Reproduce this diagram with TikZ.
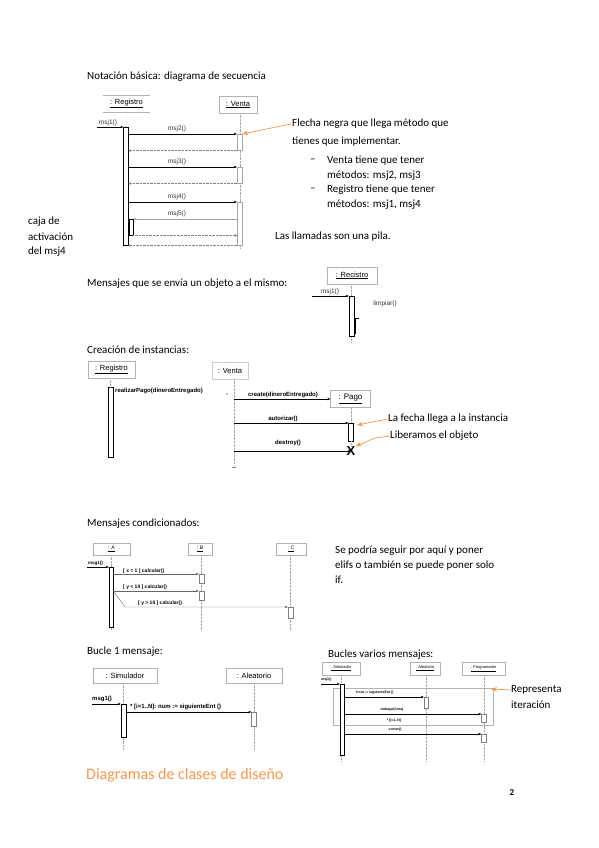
\documentclass[tikz,border=0pt]{standalone}
\usepackage{fontspec}
\setmainfont{Carlito}
\newfontfamily\arialf{Liberation Sans}
\usetikzlibrary{arrows.meta}
\definecolor{orng}{RGB}{247,150,70}
\begin{document}
\begin{tikzpicture}[x=1pt,y=-1pt,
 txt/.style={anchor=west,inner sep=0,font=\fontsize{11}{13}\selectfont},
 lbl/.style={inner sep=0,font=\arialf\fontsize{6.5}{7}\selectfont,text=black!80},
 blbl/.style={inner sep=0,font=\arialf\bfseries\fontsize{6}{7}\selectfont},
 objbox/.style={draw=gray!60,inner sep=0,font=\arialf\fontsize{7.5}{8}\selectfont},
 actbar/.style={draw,fill=white,inner sep=0,minimum width=5pt,anchor=north},
 life/.style={gray!70,densely dotted},
 msg/.style={-{Stealth[length=3pt,width=2.5pt]}},
 ret/.style={densely dotted,gray,-{To[length=2pt,width=3.5pt]}},
 orarr/.style={orng,line width=0.7pt,-{Stealth[length=6pt,width=4.5pt]}}]
\useasboundingbox (0,0) rectangle (599,848);

% ---------- Section 1
\node[txt] (t1) at (87,77) {Notación básica: diagrama de secuencia};
\node[objbox,draw=none,minimum width=47pt,minimum height=17pt] (reg1) at (126.5,103.5) {\underline{: Registro}};
\draw[gray!60] (reg1.north west) -- (reg1.north east) (reg1.south west) -- (reg1.south east);
\node[objbox,minimum width=38pt,minimum height=17pt] (ven1) at (238,104.5) {\underline{: Venta}};
\coordinate (reg1e) at (126,248);
\coordinate (ven1e) at (240,248);
\draw[life] (reg1.south) -- (reg1e);
\draw[life] (ven1.south -| ven1e) -- (ven1e);
\node[actbar,minimum height=118pt] (rA1) at (126,127) {};
\node[actbar,draw=gray!70,minimum height=16pt] (vA1) at (239.5,134) {};
\node[actbar,draw=gray!70,minimum height=16pt] (vA2) at (239.5,167) {};
\node[actbar,draw=gray!70,minimum height=43pt] (vA3) at (239.5,202) {};
\node[actbar,minimum width=4pt,minimum height=16pt] (rN1) at (131,219) {};
\coordinate (m1s) at (97,127);
\draw[msg] (m1s) -- (rA1.north west);
\node[lbl,anchor=south] at (108,126) {msj1()};
\draw[msg] (rA1.east |- vA1.north) -- (vA1.north west);
\node[lbl] at (177,129) {msj2()};
\draw[ret] (vA1.south west) -- (rA1.east |- vA1.south);
\draw[msg] (rA1.east |- vA2.north) -- (vA2.north west);
\node[lbl] at (177,162) {msj3()};
\draw[ret] (vA2.south west) -- (rA1.east |- vA2.south);
\draw[msg] (rA1.east |- vA3.north) -- (vA3.north west);
\node[lbl] at (177,197) {msj4()};
\draw[msg,gray!70] (vA3.west |- rN1.north) -- (rN1.north east);
\node[lbl] at (177,214) {msj5()};
\draw[ret] (rN1.south east) -- (vA3.west |- rN1.south);
\draw[ret] (vA3.south west) -- (rA1.east |- vA3.south);
\coordinate (oa1) at (291,124);
\draw[orarr] (oa1) -- (vA1.north east);
\node[txt] (f1) at (292,124) {Flecha negra que llega método que};
\node[txt] (f2) at (292,142) {tienes que implementar.};
\node[txt] (b1) at (310,161) {–};
\node[txt] (f3) at (327,161) {Venta tiene que tener};
\node[txt] (f4) at (327,176) {métodos: msj2, msj3};
\node[txt] (b2) at (310,190) {–};
\node[txt] (f5) at (327,190) {Registro tiene que tener};
\node[txt] (f6) at (327,205) {métodos: msj1, msj4};
\node[txt] (f7) at (275,237) {Las llamadas son una pila.};
\node[txt] (c1) at (28,222) {caja de};
\node[txt] (c2) at (28,237) {activación};
\node[txt] (c3) at (28,252) {del msj4};

% ---------- Section 2
\node[txt] (t2) at (87,284) {Mensajes que se envía un objeto a el mismo:};
\node[objbox,minimum width=50pt,minimum height=17pt] (rec2) at (352,275.5) {\underline{: Recistro}};
\coordinate (rec2e) at (351,342);
\draw[life] (rec2.south -| rec2e) -- (rec2e);
\node[actbar,minimum height=40pt] (rA2) at (351.5,296) {};
\coordinate (m2s) at (312,296);
\draw[msg] (m2s) -- (rA2.north west);
\node[lbl,anchor=south] at (330,295) {msj1()};
\node[draw=none,inner sep=0,minimum width=3pt,minimum height=16pt,anchor=north] (rN2) at (357,318) {};
\draw (rN2.north east) -- (rN2.north west) -- (rN2.south west);
\node[lbl] (lim) at (385,304) {limpiar()};

% ---------- Section 3
\node[txt] (t3) at (87,350) {Creación de instancias:};
\node[objbox,minimum width=47pt,minimum height=17pt] (reg3) at (111.5,369.5) {\underline{: Registro}};
\node[objbox,draw=gray!40,minimum width=36pt,minimum height=17pt] (ven3) at (230,370.5) {: Venta};
\node[actbar,minimum height=70pt] (rA3) at (110.5,387) {};
\draw[life] (reg3.south -| rA3.north) -- (rA3.north);
\node[blbl,anchor=west] (rp) at (115,391) {realizarPago(dineroEntregado)};
\fill (227,394) circle (0.7);
\coordinate (v3e) at (234,465);
\draw[life] (ven3.south -| v3e) -- (v3e);
\draw[gray] (232,467) -- (236,467);
\node[objbox,minimum width=40pt,minimum height=17pt,font=\arialf\fontsize{8}{9}\selectfont] (pago) at (350.5,399) {\underline{: Pago}};
\coordinate (cs) at (234,399);
\draw[msg] (cs) -- (pago.west);
\node[blbl] at (283,395) {create(dineroEntregado)};
\node[actbar,minimum height=18pt] (pA) at (351,423) {};
\draw[life] (pago.south -| pA.north) -- (pA.north);
\coordinate (as) at (234,423);
\draw[msg] (as) -- (pA.north west);
\node[blbl] at (283,419) {autorizar()};
\node[inner sep=0,font=\arialf\bfseries\fontsize{13}{13}\selectfont] (X) at (351,451) {X};
\draw[life] (pA.south) -- (X.north);
\coordinate (ds) at (234,451);
\draw[msg] (ds) -- (X.center);
\node[blbl] at (288,443) {destroy()};
\node[txt] (o3a) at (388,419) {La fecha llega a la instancia};
\node[txt] (o3b) at (390,436) {Liberamos el objeto};
\coordinate (oa3) at (357,425);
\draw[orarr] (o3a.west) -- (oa3);
\coordinate (ob3) at (375,438);
\draw[orarr] (o3b.west) -- (ob3) -- (X.north east);

% ---------- Section 4
\node[txt] (t4) at (87,524) {Mensajes condicionados:};
\node[objbox,minimum width=37pt,minimum height=12pt,font=\arialf\fontsize{5}{6}\selectfont] (A) at (111.5,549) {\underline{: A}};
\node[objbox,minimum width=24pt,minimum height=12pt,font=\arialf\fontsize{5}{6}\selectfont] (B) at (200,549) {\underline{: B}};
\node[objbox,minimum width=30pt,minimum height=12pt,font=\arialf\fontsize{5}{6}\selectfont] (C) at (291,549) {\underline{: C}};
\coordinate (Ae) at (111,630);
\coordinate (Be) at (201,630);
\coordinate (Ce) at (290,630);
\draw[life] (A.south -| Ae) -- (Ae);
\draw[life] (B.south -| Be) -- (Be);
\draw[life] (C.south -| Ce) -- (Ce);
\node[actbar,minimum width=4pt,minimum height=60pt] (aA) at (111,567) {};
\node[actbar,draw=gray,minimum width=5pt,minimum height=9pt] (bB1) at (201.5,574) {};
\node[actbar,draw=gray,minimum width=5pt,minimum height=9pt] (bB2) at (201.5,591) {};
\node[actbar,draw=gray,minimum width=5pt,minimum height=11pt] (cC) at (290.5,607) {};
\coordinate (g1s) at (87,567);
\draw[msg] (g1s) -- (aA.north west);
\node[blbl,font=\arialf\bfseries\fontsize{4.5}{5}\selectfont,anchor=west] at (88,563) {msg1()};
\draw[msg,black!60] (aA.east |- bB1.north) -- (bB1.north west);
\node[blbl,font=\arialf\bfseries\fontsize{5}{6}\selectfont,anchor=west] at (123,571) {[ x = 1 ] calcular()};
\draw[msg,black!60] (aA.east |- bB2.north) -- (bB2.north west);
\node[blbl,font=\arialf\bfseries\fontsize{5}{6}\selectfont,anchor=west] at (123,587) {[ y < 10 ] calcular()};
\coordinate (kink) at (125,607);
\draw[msg,black!60] (aA.east |- bB2.north) -- (kink) -- (cC.north west);
\node[blbl,font=\arialf\bfseries\fontsize{5}{6}\selectfont,anchor=west] at (138,603) {[ y > 10 ] calcular()};
\node[txt] (s1) at (335,551) {Se podría seguir por aquí y poner};
\node[txt] (s2) at (335,566) {elifs o también se puede poner solo};
\node[txt] (s3) at (335,580) {if.};

% ---------- Section 5
\node[txt] (t5) at (87,652) {Bucle 1 mensaje:};
\node[objbox,minimum width=64pt,minimum height=15pt] (sim5) at (125,675.5) {: Simulador};
\node[objbox,minimum width=56pt,minimum height=15pt] (ale5) at (254,675.5) {: Aleatorio};
\coordinate (s5e) at (123,750);
\coordinate (a5e) at (254,750);
\draw[life] (sim5.south -| s5e) -- (s5e);
\draw[life] (ale5.south -| a5e) -- (a5e);
\node[actbar,minimum width=5pt,minimum height=33pt] (sA) at (123.5,704) {};
\node[actbar,draw=gray,minimum width=5pt,minimum height=14pt] (alA) at (254,712) {};
\coordinate (q1s) at (92,704);
\draw[msg] (q1s) -- (sA.north west);
\node[blbl,anchor=west] at (92,699) {msg1()};
\draw[msg] (sA.east |- alA.north) -- (alA.north west);
\node[blbl,anchor=west] at (130,707) {* [i=1..N]: num := siguienteEnt ()};

% ---------- Section 6
\node[txt] (t6) at (328,655) {Bucles varios mensajes:};
\node[objbox,minimum width=38pt,minimum height=13pt,font=\arialf\fontsize{4}{5}\selectfont] (sim6) at (341,668.5) {\underline{: Simulador}};
\node[objbox,minimum width=30pt,minimum height=13pt,font=\arialf\fontsize{4}{5}\selectfont] (ale6) at (425,668.5) {\underline{: Aleatorio}};
\node[objbox,minimum width=43pt,minimum height=13pt,font=\arialf\fontsize{4}{5}\selectfont] (pro6) at (483.5,668.5) {\underline{: Programador}};
\coordinate (s6e) at (341,762);
\coordinate (a6e) at (426,762);
\coordinate (p6e) at (484,762);
\draw[life] (sim6.south -| s6e) -- (s6e);
\draw[life] (ale6.south -| a6e) -- (a6e);
\draw[life] (pro6.south -| p6e) -- (p6e);
\node[draw=gray!60,inner sep=0,minimum width=160pt,minimum height=37pt,anchor=north west] (loop) at (333,688) {};
\node[actbar,minimum width=4pt,minimum height=71pt] (s6A) at (342,684) {};
\node[actbar,draw=gray,minimum width=4pt,minimum height=11pt] (a6A) at (426,697) {};
\node[actbar,draw=gray,minimum width=5pt,minimum height=8pt] (p6A1) at (484,714) {};
\node[actbar,draw=gray,minimum width=5pt,minimum height=8pt] (p6A2) at (484,734) {};
\coordinate (r1s) at (321,684);
\draw[msg] (r1s) -- (s6A.north west);
\node[blbl,font=\arialf\bfseries\fontsize{3.5}{4}\selectfont,anchor=west] at (321,680) {msj1()};
\draw[msg] (s6A.east |- a6A.north) -- (a6A.north west);
\node[blbl,font=\arialf\bfseries\fontsize{3.5}{4}\selectfont] at (375,693) {hora := siguienteEnt ()};
\draw[msg] (s6A.east |- p6A1.north) -- (p6A1.north west);
\node[blbl,font=\arialf\bfseries\fontsize{3.5}{4}\selectfont] at (392,710) {trabajar(hora)};
\node[blbl,font=\arialf\bfseries\fontsize{3.5}{4}\selectfont] at (394,721) {* [i=1..N]};
\draw[msg] (s6A.east |- p6A2.north) -- (p6A2.north west);
\node[blbl,font=\arialf\bfseries\fontsize{3.5}{4}\selectfont] at (395,730) {comer()};
\node[txt] (rep1) at (511,690) {Representa};
\node[txt] (rep2) at (511,705) {iteración};
\coordinate (oa6) at (491,689);
\draw[orarr] (rep1.west) -- (oa6);

% ---------- Section 7
\node[txt,font=\fontsize{16}{18}\selectfont,text=orng] (t7) at (86,775) {Diagramas de clases de diseño};
\node[inner sep=0,font=\bfseries\fontsize{9}{10}\selectfont] (pg) at (512,793) {2};
\end{tikzpicture}
\end{document}
